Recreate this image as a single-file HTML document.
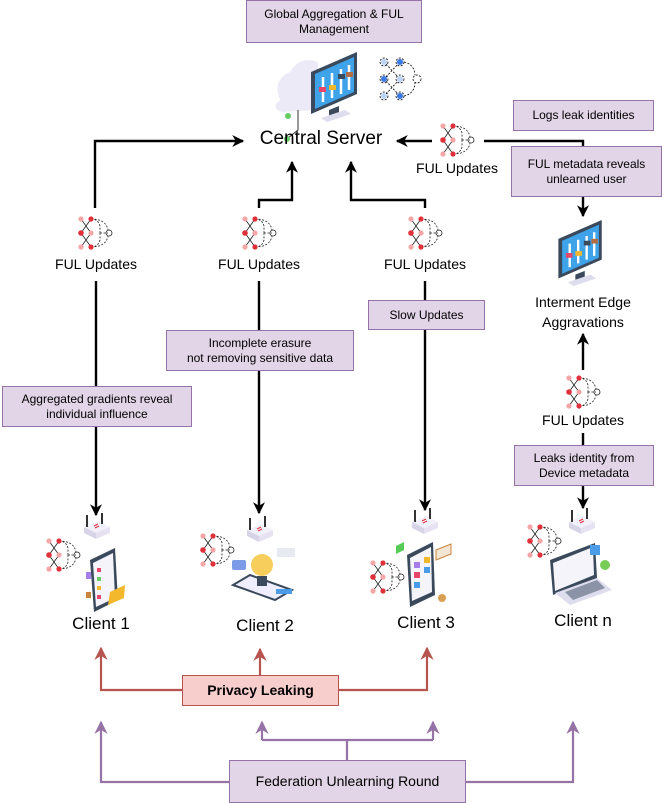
<!DOCTYPE html>
<html><head><meta charset="utf-8"><style>
html,body{margin:0;padding:0;background:#fff;}
body{width:662px;height:803px;position:relative;overflow:hidden;font-family:"Liberation Sans",sans-serif;}
.box{position:absolute;box-sizing:border-box;background:#e1d5e7;border:1px solid #9673a6;font-size:12px;line-height:15px;color:#000;text-align:center;display:flex;align-items:center;justify-content:center;}
.lbl{position:absolute;text-align:center;color:#000;white-space:nowrap;transform:translateX(-50%);}
svg{position:absolute;left:0;top:0;}
</style></head><body>
<svg width="662" height="803" viewBox="0 0 662 803">
<defs>
<marker id="ab" viewBox="0 0 10 10" refX="9" refY="5" markerWidth="12" markerHeight="12" markerUnits="userSpaceOnUse" orient="auto"><path d="M0,0 L10,5 L0,10 L3,5 z" fill="#000"/></marker>
<marker id="ar" viewBox="0 0 10 10" refX="9" refY="5" markerWidth="6" markerHeight="6" orient="auto"><path d="M0,0 L10,5 L0,10 L3,5 z" fill="#b85450"/></marker>
<marker id="ap" viewBox="0 0 10 10" refX="9" refY="5" markerWidth="6" markerHeight="6" orient="auto"><path d="M0,0 L10,5 L0,10 L3,5 z" fill="#9673a6"/></marker>
<symbol id="ful" viewBox="0 0 36 34">
<g stroke="#222" stroke-width="0.8" fill="none">
<path d="M3,3 L13,17 M3,31 L13,17 M13,3 L3,17 M13,31 L3,17"/>
<path d="M13,3 Q20,3 22,10 L22,17 M13,31 Q20,31 22,24 L22,17 M22,17 L30,17" stroke-dasharray="2,1.5"/>
<path d="M13,3 Q28,3 30,14 M13,31 Q28,31 30,20" stroke-dasharray="2,1.5"/>
<circle cx="31" cy="17" r="3"/>
</g>
<circle cx="3" cy="3" r="2.6" fill="#f4a6a6"/><circle cx="13" cy="3" r="2.6" fill="#e0303a"/>
<circle cx="3" cy="17" r="2.8" fill="#e0303a"/><circle cx="13" cy="17" r="2.6" fill="#f4a6a6"/>
<circle cx="3" cy="31" r="2.6" fill="#f4a6a6"/><circle cx="13" cy="31" r="2.6" fill="#e0303a"/>
</symbol>
<symbol id="router" viewBox="0 0 30 28">
<path d="M2,14 L16,8 L28,14 L14,20 z" fill="#f2f0f8"/>
<path d="M2,14 L14,20 L14,26 L2,20 z" fill="#d8d4e8"/>
<path d="M14,20 L28,14 L28,20 L14,26 z" fill="#e6e2f2"/>
<path d="M5,2 L5,14 M20,0 L20,11" stroke="#333" stroke-width="2"/>
<path d="M12,13 l4,-2 M13,15 l4,-2" stroke="#e0303a" stroke-width="1"/>
</symbol>
<symbol id="mon" viewBox="0 0 60 70">
<path d="M6,20 L52,0 L52,42 L6,62 z" fill="#3a4a5c"/>
<path d="M10,22 L49,5 L49,40 L10,57 z" fill="#3fa3ea"/>
<g stroke="#fff" stroke-width="2.5"><path d="M18,25 L18,50 M27,21 L27,46 M36,17 L36,42 M44,13 L44,38"/></g>
<rect x="14" y="35" width="7" height="5" fill="#e8456b"/><rect x="24" y="33" width="7" height="5" fill="#f3b82c"/>
<rect x="33" y="22" width="7" height="5" fill="#3a4a5c"/><rect x="41" y="20" width="7" height="5" fill="#b36d45"/>
<path d="M24,58 L34,54 L34,62 L24,66 z" fill="#3a4a5c"/><path d="M16,66 L40,58 L46,62 L22,70 z" fill="#dde"/>
</symbol>
</defs>

<g>
<path d="M280,100 Q272,80 290,72 Q300,55 318,62 L318,110 L282,112 Q270,108 280,100 z" fill="#eceaf7"/>
<path d="M298,110 L298,130 L288,138" stroke="#333" stroke-width="1" fill="none"/><circle cx="288" cy="116" r="3" fill="#6c6"/><circle cx="287" cy="139" r="3" fill="#6c6"/>
<use href="#mon" x="305" y="52" width="60" height="70"/>
<g stroke="#000" stroke-width="0.8" fill="none" stroke-dasharray="2,1.5">
<circle cx="384" cy="62" r="4"/><circle cx="400" cy="62" r="4"/><circle cx="384" cy="79" r="4"/><circle cx="400" cy="79" r="4"/><circle cx="384" cy="96" r="4"/><circle cx="400" cy="96" r="4"/><circle cx="417" cy="79" r="4"/>
<path d="M386,64 L398,77 M386,77 L398,64 M386,81 L398,94 M386,94 L398,81 M404,62 Q414,64 415,75 M404,96 Q414,94 415,83"/>
</g>
<circle cx="384" cy="62" r="3" fill="#bcd4f6"/><circle cx="400" cy="62" r="3" fill="#3b79e6"/><circle cx="384" cy="79" r="3" fill="#3b79e6"/><circle cx="400" cy="79" r="3" fill="#bcd4f6"/><circle cx="384" cy="96" r="3" fill="#bcd4f6"/><circle cx="400" cy="96" r="3" fill="#3b79e6"/>
</g>

<g stroke="#000" stroke-width="2.4" fill="none">
<path d="M95,208 L95,141 L243,141" marker-end="url(#ab)"/>
<path d="M259,208 L259,200 L292,200 L292,162" marker-end="url(#ab)"/>
<path d="M425,208 L425,200 L351,200 L351,162" marker-end="url(#ab)"/>
<path d="M432,141 L397,141" marker-end="url(#ab)"/>
<path d="M484,141 L583,141 L583,216" marker-end="url(#ab)"/>
<path d="M96,281 L96,515" marker-end="url(#ab)"/>
<path d="M259,281 L259,513" marker-end="url(#ab)"/>
<path d="M425,281 L425,510" marker-end="url(#ab)"/>
<path d="M583,370 L583,334" marker-end="url(#ab)"/>
<path d="M583,433 L583,508" marker-end="url(#ab)"/>
</g>

<use href="#ful" x="78" y="216" width="36" height="34"/>
<use href="#ful" x="242" y="216" width="36" height="34"/>
<use href="#ful" x="408" y="216" width="36" height="34"/>
<use href="#ful" x="440" y="123" width="36" height="34"/>
<use href="#ful" x="566" y="375" width="36" height="34"/>

<use href="#mon" x="552" y="220" width="58" height="66"/>

<use href="#router" x="82" y="513" width="30" height="28"/>
<use href="#ful" x="46" y="538" width="36" height="34"/>
<g><path d="M90,560 L115,548 L118,600 L94,612 z" fill="#3a4a5c"/><path d="M93,563 L113,553 L115,598 L96,607 z" fill="#f4f4fa"/>
<rect x="97" y="568" width="4" height="4" fill="#e8456b"/><rect x="97" y="577" width="4" height="4" fill="#6c6"/><rect x="97" y="586" width="4" height="4" fill="#f3b82c"/><rect x="97" y="595" width="4" height="4" fill="#e8456b"/>
<path d="M108,605 L124,598 L125,585 L110,592 z" fill="#f3b82c"/><rect x="86" y="572" width="5" height="7" fill="#a57ee8"/><rect x="86" y="592" width="5" height="6" fill="#c8843c"/></g>

<use href="#router" x="245" y="516" width="30" height="28"/>
<use href="#ful" x="200" y="533" width="36" height="34"/>
<g><path d="M233,585 L275,600 L292,590 L250,575 z" fill="#eef" stroke="#3a4a5c" stroke-width="2"/>
<circle cx="262" cy="565" r="11" fill="#f6c94a" opacity="0.9"/><rect x="257" y="576" width="10" height="10" fill="#3a4a5c"/>
<rect x="232" y="560" width="14" height="10" rx="2" fill="#7b9be8"/><rect x="277" y="548" width="18" height="9" fill="#e8eaf2"/><rect x="276" y="589" width="16" height="5" fill="#4a9be8"/></g>

<use href="#router" x="410" y="508" width="30" height="28"/>
<use href="#ful" x="370" y="560" width="36" height="34"/>
<g><path d="M407,555 L433,542 L435,595 L410,607 z" fill="#3a4a5c"/><path d="M410,558 L431,547 L432,592 L412,601 z" fill="#f4f4fa"/>
<rect x="414" y="562" width="6" height="6" fill="#a57ee8"/><rect x="424" y="557" width="6" height="6" fill="#f3b82c"/><rect x="414" y="572" width="6" height="6" fill="#e8456b"/><rect x="424" y="567" width="6" height="6" fill="#4a9be8"/><rect x="414" y="582" width="6" height="6" fill="#4a9be8"/>
<path d="M396,546 l8,-4 l0,8 l-8,4 z" fill="#5c5"/><path d="M436,550 l15,-6 l0,10 l-15,6 z" fill="#f4e4d4" stroke="#c8843c"/><circle cx="442" cy="598" r="4" fill="#d8a050"/></g>

<use href="#ful" x="527" y="524" width="36" height="34"/>
<use href="#router" x="567" y="508" width="30" height="28"/>
<g><path d="M550,560 L595,543 L597,578 L553,595 z" fill="#3a4a5c"/><path d="M553,563 L593,547 L594,575 L555,591 z" fill="#f4f4fa"/>
<path d="M555,593 L597,578 L612,590 L570,605 z" fill="#dde" /><path d="M565,592 L597,580 L605,588 L573,600 z" fill="#8a94a6"/>
<rect x="590" y="545" width="10" height="10" fill="#4a9be8"/><circle cx="605" cy="565" r="5" fill="#7c5"/></g>

<g stroke="#b85450" stroke-width="2.2" fill="none">
<path d="M182,690 L101,690 L101,648" marker-end="url(#ar)"/>
<path d="M260,675 L260,649" marker-end="url(#ar)"/>
<path d="M339,690 L427,690 L427,648" marker-end="url(#ar)"/>
</g>
<g stroke="#9673a6" stroke-width="2.2" fill="none">
<path d="M229,782 L101,782 L101,722" marker-end="url(#ap)"/>
<path d="M466,782 L573,782 L573,722" marker-end="url(#ap)"/>
<path d="M347,760 L347,740 M262,740 L433,740"/>
<path d="M262,740 L262,722" marker-end="url(#ap)"/>
<path d="M433,740 L433,722" marker-end="url(#ap)"/>
</g>
</svg>

<div class="box" style="left:246px;top:0;width:176px;height:43px;">Global Aggregation &amp; FUL<br>Management</div>
<div class="box" style="left:513px;top:100px;width:141px;height:31px;">Logs leak identities</div>
<div class="box" style="left:511px;top:146px;width:151px;height:51px;">FUL metadata reveals<br>unlearned user</div>
<div class="box" style="left:368px;top:300px;width:117px;height:30px;">Slow Updates</div>
<div class="box" style="left:166px;top:330px;width:188px;height:41px;">Incomplete erasure<br>not removing sensitive data</div>
<div class="box" style="left:2px;top:386px;width:190px;height:41px;">Aggregated gradients reveal<br>individual influence</div>
<div class="box" style="left:514px;top:445px;width:140px;height:41px;">Leaks identity from<br>Device metadata</div>
<div class="box" style="left:182px;top:675px;width:157px;height:31px;background:#f8cecc;border-color:#b85450;font-weight:bold;font-size:14px;">Privacy Leaking</div>
<div class="box" style="left:229px;top:760px;width:237px;height:43px;font-size:14px;">Federation Unlearning Round</div>

<div class="lbl" style="left:321px;top:128px;font-size:19px;">Central Server</div>
<div class="lbl" style="left:96px;top:256px;font-size:14px;">FUL Updates</div>
<div class="lbl" style="left:259px;top:256px;font-size:14px;">FUL Updates</div>
<div class="lbl" style="left:425px;top:256px;font-size:14px;">FUL Updates</div>
<div class="lbl" style="left:457px;top:160px;font-size:14px;">FUL Updates</div>
<div class="lbl" style="left:583px;top:412px;font-size:14px;">FUL Updates</div>
<div class="lbl" style="left:583px;top:292px;font-size:14px;line-height:20px;">Interment Edge<br>Aggravations</div>
<div class="lbl" style="left:101px;top:614px;font-size:17px;">Client 1</div>
<div class="lbl" style="left:265px;top:616px;font-size:17px;">Client 2</div>
<div class="lbl" style="left:426px;top:613px;font-size:17px;">Client 3</div>
<div class="lbl" style="left:583px;top:611px;font-size:17px;">Client n</div>
</body></html>
